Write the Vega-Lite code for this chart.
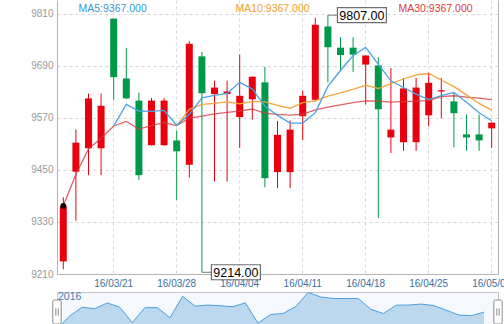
{
  "$schema": "https://vega.github.io/schema/vega-lite/v6.json",
  "padding": 0,
  "background": "white",
  "spacing": 0,
  "config": {
    "font": "Liberation Sans",
    "view": {"stroke": null}
  },
  "datasets": {
    "k": [
      {"d": "16/03/15", "o": 9239, "h": 9387, "l": 9221, "c": 9367, "ma5": null, "ma10": null, "ma30": 9367.0},
      {"d": "16/03/16", "o": 9446, "h": 9543, "l": 9333, "c": 9513, "ma5": null, "ma10": null, "ma30": 9440.0},
      {"d": "16/03/17", "o": 9500, "h": 9626, "l": 9438, "c": 9615, "ma5": null, "ma10": null, "ma30": 9498.3},
      {"d": "16/03/18", "o": 9500, "h": 9626, "l": 9438, "c": 9598, "ma5": null, "ma10": null, "ma30": 9523.3},
      {"d": "16/03/21", "o": 9799, "h": 9800, "l": 9612, "c": 9664, "ma5": 9551.4, "ma10": null, "ma30": 9551.4},
      {"d": "16/03/22", "o": 9661, "h": 9731, "l": 9614, "c": 9615, "ma5": 9601.0, "ma10": null, "ma30": 9562.0},
      {"d": "16/03/23", "o": 9610, "h": 9628, "l": 9427, "c": 9438, "ma5": 9586.0, "ma10": null, "ma30": 9544.3},
      {"d": "16/03/24", "o": 9507, "h": 9616, "l": 9506, "c": 9610, "ma5": 9585.0, "ma10": null, "ma30": 9552.5},
      {"d": "16/03/25", "o": 9507, "h": 9616, "l": 9506, "c": 9610, "ma5": 9587.4, "ma10": null, "ma30": 9558.9},
      {"d": "16/03/28", "o": 9518, "h": 9541, "l": 9381, "c": 9493, "ma5": 9553.2, "ma10": 9552.3, "ma30": 9552.3},
      {"d": "16/03/29", "o": 9462, "h": 9747, "l": 9432, "c": 9741, "ma5": 9578.4, "ma10": 9589.7, "ma30": 9569.5},
      {"d": "16/03/30", "o": 9712, "h": 9722, "l": 9214, "c": 9627, "ma5": 9616.2, "ma10": 9601.1, "ma30": 9574.3},
      {"d": "16/03/31", "o": 9625, "h": 9656, "l": 9423, "c": 9640, "ma5": 9622.2, "ma10": 9603.6, "ma30": 9579.3},
      {"d": "16/04/01", "o": 9625, "h": 9656, "l": 9423, "c": 9631, "ma5": 9626.4, "ma10": 9606.9, "ma30": 9583.0},
      {"d": "16/04/04", "o": 9572, "h": 9716, "l": 9501, "c": 9621, "ma5": 9652.0, "ma10": 9602.6, "ma30": 9585.5},
      {"d": "16/04/05", "o": 9613, "h": 9666, "l": 9566, "c": 9665, "ma5": 9636.8, "ma10": 9607.6, "ma30": 9590.5},
      {"d": "16/04/06", "o": 9652, "h": 9688, "l": 9410, "c": 9431, "ma5": 9597.6, "ma10": 9606.9, "ma30": 9581.1},
      {"d": "16/04/07", "o": 9445, "h": 9563, "l": 9408, "c": 9531, "ma5": 9575.8, "ma10": 9599.0, "ma30": 9578.3},
      {"d": "16/04/08", "o": 9445, "h": 9564, "l": 9408, "c": 9543, "ma5": 9558.2, "ma10": 9592.3, "ma30": 9576.5},
      {"d": "16/04/11", "o": 9574, "h": 9633, "l": 9519, "c": 9621, "ma5": 9558.2, "ma10": 9605.1, "ma30": 9578.7},
      {"d": "16/04/12", "o": 9612, "h": 9801, "l": 9608, "c": 9785, "ma5": 9582.2, "ma10": 9609.5, "ma30": 9588.5},
      {"d": "16/04/13", "o": 9781, "h": 9807, "l": 9652, "c": 9733, "ma5": 9642.6, "ma10": 9620.1, "ma30": 9595.1},
      {"d": "16/04/14", "o": 9732, "h": 9756, "l": 9678, "c": 9715, "ma5": 9679.4, "ma10": 9627.6, "ma30": 9600.3},
      {"d": "16/04/15", "o": 9732, "h": 9756, "l": 9676, "c": 9716, "ma5": 9714.0, "ma10": 9636.1, "ma30": 9605.1},
      {"d": "16/04/18", "o": 9693, "h": 9714, "l": 9601, "c": 9714, "ma5": 9732.6, "ma10": 9645.4, "ma30": 9609.5},
      {"d": "16/04/19", "o": 9691, "h": 9710, "l": 9339, "c": 9590, "ma5": 9693.6, "ma10": 9637.9, "ma30": 9608.7},
      {"d": "16/04/20", "o": 9525, "h": 9685, "l": 9489, "c": 9543, "ma5": 9655.6, "ma10": 9649.1, "ma30": 9606.3},
      {"d": "16/04/21", "o": 9514, "h": 9662, "l": 9494, "c": 9638, "ma5": 9640.2, "ma10": 9659.8, "ma30": 9607.4},
      {"d": "16/04/22", "o": 9514, "h": 9662, "l": 9494, "c": 9640, "ma5": 9625.0, "ma10": 9669.5, "ma30": 9608.6},
      {"d": "16/04/25", "o": 9576, "h": 9675, "l": 9551, "c": 9651, "ma5": 9612.4, "ma10": 9672.5, "ma30": 9610.0},
      {"d": "16/04/26", "o": 9631, "h": 9662, "l": 9569, "c": 9634, "ma5": 9621.2, "ma10": 9657.4, "ma30": 9618.9},
      {"d": "16/04/27", "o": 9608, "h": 9628, "l": 9502, "c": 9581, "ma5": 9628.8, "ma10": 9642.2, "ma30": 9621.1},
      {"d": "16/04/28", "o": 9532, "h": 9578, "l": 9494, "c": 9525, "ma5": 9606.2, "ma10": 9623.2, "ma30": 9618.1},
      {"d": "16/04/29", "o": 9532, "h": 9578, "l": 9494, "c": 9518, "ma5": 9581.8, "ma10": 9603.4, "ma30": 9615.5},
      {"d": "16/05/02", "o": 9546, "h": 9560, "l": 9501, "c": 9559, "ma5": 9563.4, "ma10": 9587.9, "ma30": 9612.0}
    ],
    "ext": [
      {"d": "16/03/30", "v": 9214, "t": "9214.00"},
      {"d": "16/04/13", "v": 9807, "t": "9807.00"}
    ],
    "hover": [{"d": "16/03/15", "v": 9367}],
    "zoom": [{"p": 0}, {"p": 100}]
  },
  "vconcat": [
    {
      "width": 441,
      "height": 274,
      "data": {"name": "k"},
      "resolve": {"axis": {"y": "independent"}},
      "layer": [
        {
          "mark": {"type": "rule", "strokeWidth": 1},
          "encoding": {
            "x": {
              "field": "d", "type": "ordinal",
              "scale": {"type": "band", "paddingInner": 0, "paddingOuter": 0},
              "axis": {
                "title": null, "values": ["16/03/21", "16/03/28", "16/04/04", "16/04/11", "16/04/18", "16/04/25", "16/05/02"],
                "bandPosition": 0.5, "labelAngle": 0, "ticks": false, "labelPadding": 4,
                "labelFontSize": 10, "labelColor": "#3d6f9f", "labelFont": "Liberation Sans",
                "domainColor": "#b4b4b4", "grid": true, "gridColor": "#d8d8d8", "gridDash": [3, 3],
                "minExtent": 15, "maxExtent": 15, "labelOverlap": false
              }
            },
            "y": {
              "field": "l", "type": "quantitative",
              "scale": {"domain": [9210, 9842], "nice": false, "zero": false},
              "axis": {
                "title": null, "values": [9210, 9330, 9450, 9570, 9690, 9810], "format": "d",
                "ticks": false, "labelPadding": 4, "labelFontSize": 10, "labelColor": "#999999",
                "domainColor": "#b4b4b4", "grid": true, "gridColor": "#d8d8d8", "gridDash": [3, 3],
                "minExtent": 57, "maxExtent": 57
              }
            },
            "y2": {"field": "h"},
            "color": {"condition": {"test": "datum.c >= datum.o", "value": "#e8000f"}, "value": "#00994a"}
          }
        },
        {
          "mark": {"type": "bar", "width": 7},
          "encoding": {
            "x": {"field": "d", "type": "ordinal"},
            "y": {
              "field": "o", "type": "quantitative",
              "axis": {"orient": "right", "title": null, "labels": false, "ticks": false, "grid": false, "domainColor": "#b4b4b4"}
            },
            "y2": {"field": "c"},
            "color": {"condition": {"test": "datum.c >= datum.o", "value": "#e8000f"}, "value": "#00994a"}
          }
        },
        {
          "mark": {"type": "line", "strokeWidth": 1.3, "opacity": 0.8},
          "encoding": {
            "x": {"field": "d", "type": "ordinal"},
            "y": {"field": "ma30", "type": "quantitative", "axis": null},
            "color": {
              "datum": "MA30",
              "scale": {"domain": ["MA5", "MA10", "MA30"], "range": ["#4ba3e3", "#f5a43b", "#d93a3f"]},
              "legend": {
                "orient": "none", "legendX": 11, "legendY": 4, "direction": "horizontal",
                "title": null, "padding": 0, "symbolSize": 0, "symbolOpacity": 0, "symbolStrokeWidth": 0,
                "labelOffset": 0, "columnPadding": 78, "labelFontSize": 10.5,
                "labelExpr": "datum.label + ':9367.000'",
                "labelColor": {"expr": "datum.value == 'MA5' ? '#3a96d9' : datum.value == 'MA10' ? '#efa02c' : '#dd3a3a'"}
              }
            }
          }
        },
        {
          "mark": {"type": "line", "strokeWidth": 1.3},
          "encoding": {
            "x": {"field": "d", "type": "ordinal"},
            "y": {"field": "ma10", "type": "quantitative", "axis": null},
            "color": {"datum": "MA10"}
          }
        },
        {
          "mark": {"type": "line", "strokeWidth": 1.3},
          "encoding": {
            "x": {"field": "d", "type": "ordinal"},
            "y": {"field": "ma5", "type": "quantitative", "axis": null},
            "color": {"datum": "MA5"}
          }
        },
        {
          "data": {"name": "hover"},
          "mark": {"type": "point", "filled": true, "size": 32, "color": "#000000", "opacity": 1},
          "encoding": {
            "x": {"field": "d", "type": "ordinal"},
            "y": {"field": "v", "type": "quantitative", "axis": null}
          }
        },
        {
          "data": {"name": "ext"},
          "mark": {"type": "rule", "color": "#777777", "strokeWidth": 1, "x2Offset": 10},
          "encoding": {
            "x": {"field": "d", "type": "ordinal"},
            "x2": {"field": "d"},
            "y": {"field": "v", "type": "quantitative", "axis": null}
          }
        },
        {
          "data": {"name": "ext"},
          "mark": {
            "type": "point", "shape": "M-1.633,-0.5H1.633V0.5H-1.633Z", "size": 900,
            "filled": false, "fill": "#ffffff", "fillOpacity": 1, "stroke": "#6e6e6e", "strokeWidth": 1.2, "opacity": 1, "xOffset": 34
          },
          "encoding": {
            "x": {"field": "d", "type": "ordinal"},
            "y": {"field": "v", "type": "quantitative", "axis": null}
          }
        },
        {
          "data": {"name": "ext"},
          "mark": {"type": "text", "fontSize": 12.5, "color": "#000000", "align": "center", "baseline": "middle", "xOffset": 34, "dy": 1},
          "encoding": {
            "x": {"field": "d", "type": "ordinal"},
            "y": {"field": "v", "type": "quantitative", "axis": null},
            "text": {"field": "t"}
          }
        }
      ]
    },
    {
      "width": 441,
      "height": 40,
      "view": {"stroke": "#c4c4c4", "fill": "#f5f9fd"},
      "title": {"text": "2016", "anchor": "start", "offset": -12, "fontSize": 10.5, "fontWeight": "normal", "color": "#4a7bb0", "frame": "group", "dx": 1},
      "resolve": {"scale": {"x": "independent"}},
      "layer": [
        {
          "data": {"name": "k"},
          "mark": {"type": "area", "color": "#bcd8ee", "opacity": 1, "line": {"color": "#4a9fdf", "strokeWidth": 1}},
          "encoding": {
            "x": {"field": "d", "type": "ordinal", "scale": {"type": "point", "padding": 0, "range": [0, 427]}, "axis": null},
            "y": {"field": "c", "type": "quantitative", "scale": {"domain": [9330, 9790], "nice": false, "zero": false}, "axis": null}
          }
        },
        {
          "data": {"name": "zoom"},
          "mark": {
            "type": "point",
            "shape": "M-0.35,-0.85Q-0.35,-1 -0.2,-1H0.2Q0.35,-1 0.35,-0.85V0.85Q0.35,1 0.2,1H-0.2Q-0.35,1 -0.35,0.85ZM-0.1,-0.3V0.3M0.1,-0.3V0.3",
            "size": 576, "filled": false, "fill": "#ffffff", "fillOpacity": 1, "stroke": "#8a8a8a", "strokeWidth": 1, "opacity": 1
          },
          "encoding": {
            "x": {"field": "p", "type": "quantitative", "scale": {"domain": [0, 100], "nice": false, "zero": false}, "axis": null}
          }
        }
      ]
    }
  ]
}
